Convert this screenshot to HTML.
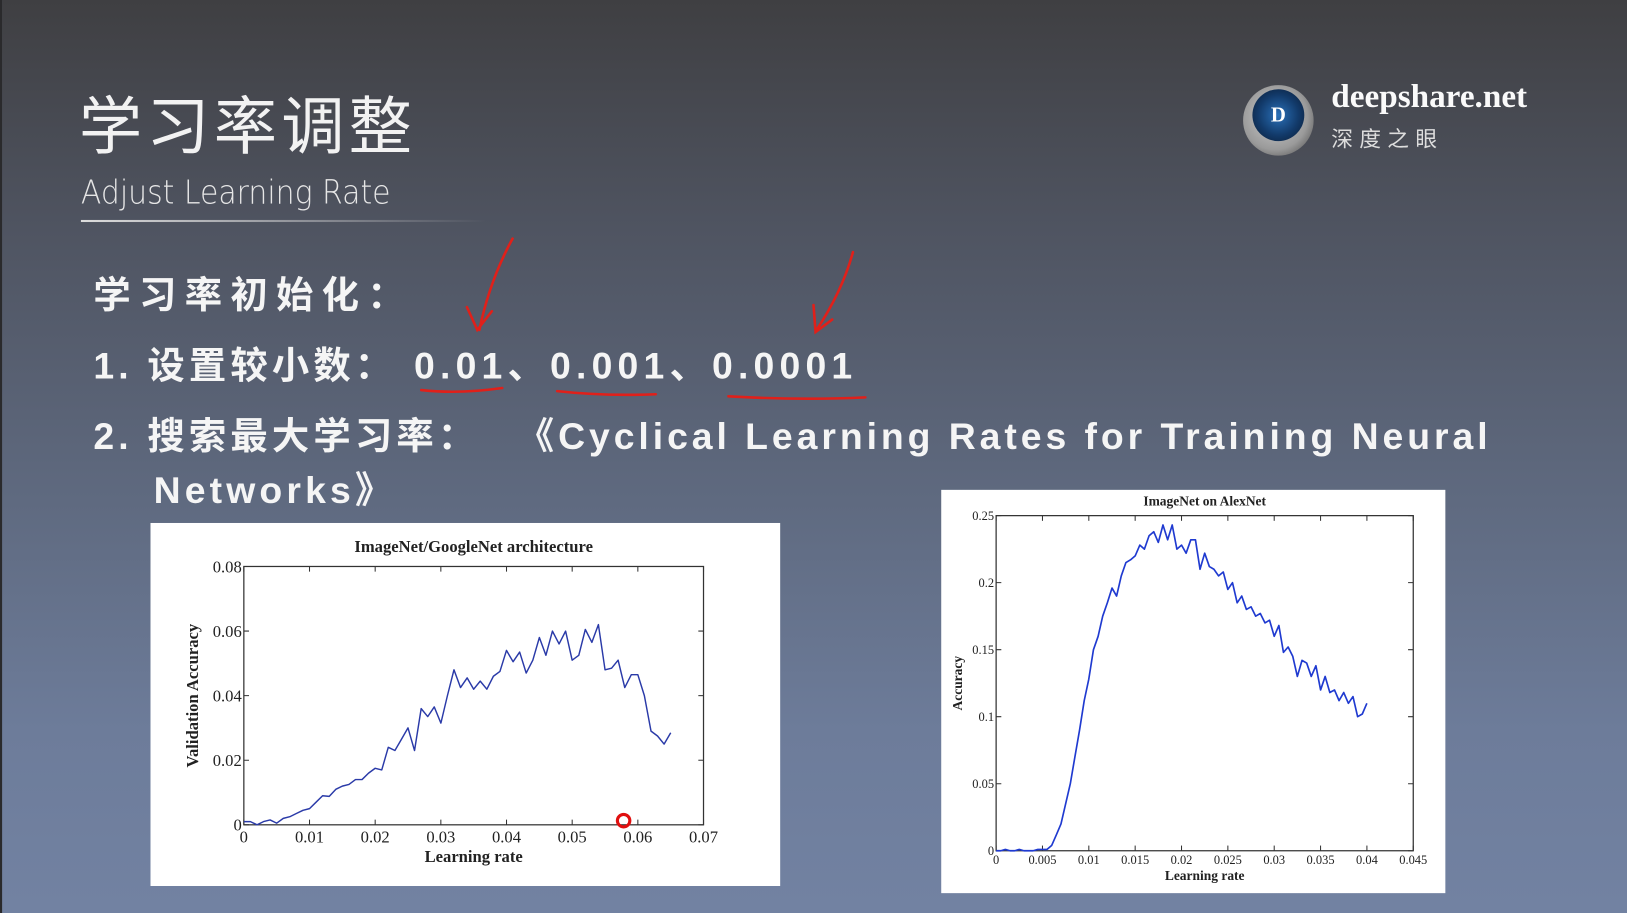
<!DOCTYPE html>
<html><head><meta charset="utf-8">
<style>
html,body{margin:0;padding:0;width:1627px;height:913px;overflow:hidden;background:#555b6a}
#wrap{position:absolute;left:0;top:0;width:1568px;height:880px;transform:scale(1.03763,1.0375);transform-origin:0 0;
background:linear-gradient(180deg,#3f3f42 0%,#4f5461 25%,#5f6a80 55%,#6d7c9a 80%,#7282a2 100%);
font-family:"Liberation Sans","Noto Sans CJK SC",sans-serif;color:#fff;border-left:2px solid #2a2a2c;box-sizing:border-box}
.abs{position:absolute}
.t{white-space:nowrap}
</style></head><body>
<div id="wrap">
<div class="abs t" style="left:74px;top:72px;font-size:61px;font-family:'Noto Sans CJK SC',sans-serif;letter-spacing:4px;color:#f2f2f2">学习率调整</div>
<div class="abs t" style="left:76px;top:166px;font-size:32px;font-family:'DejaVu Sans','Liberation Sans',sans-serif;font-weight:300;color:#e6e6e6;letter-spacing:0px;transform:scaleX(0.9);transform-origin:0 0">Adjust Learning Rate</div>
<div class="abs" style="left:76px;top:212px;width:390px;height:2px;background:linear-gradient(90deg,#ddd,rgba(220,220,220,0))"></div>

<div class="abs" style="left:1196px;top:82px;width:68px;height:68px;border-radius:50%;background:radial-gradient(circle at 45% 45%,#cfcfcf 0,#9a9a9a 60%,#3a3a3a 100%)"></div>
<div class="abs" style="left:1205px;top:86px;width:50px;height:50px;border-radius:50%;background:radial-gradient(circle at 50% 50%,#2a70b8 0,#123a6a 55%,#0a1a30 100%);color:#fff;font:bold 20px 'Liberation Serif',serif;text-align:center;line-height:50px">D</div>
<div class="abs t" style="left:1281px;top:74px;font:bold 32px 'Liberation Serif',serif;color:#fafafa">deepshare.net</div>
<div class="abs t" style="left:1281px;top:118px;font-size:21px;font-family:'Noto Sans CJK SC',sans-serif;letter-spacing:6px;color:#ddd">深度之眼</div>

<div class="abs t" style="left:88px;top:256px;font-size:36px;font-weight:bold;font-family:'Noto Sans CJK SC',sans-serif;letter-spacing:8px;color:#f5f5f5">学习率初始化：</div>
<div class="abs t" style="left:88px;top:324px;font-size:36px;font-weight:bold;font-family:'Liberation Sans','Noto Sans CJK SC',sans-serif;letter-spacing:4px;color:#f5f5f5">1. 设置较小数：<span style="margin-left:17px;letter-spacing:5px">0.01、0.001、0.0001</span></div>
<div class="abs t" style="left:88px;top:392px;font-size:36px;font-weight:bold;font-family:'Liberation Sans','Noto Sans CJK SC',sans-serif;letter-spacing:4px;color:#f5f5f5">2. 搜索最大学习率：<span style="margin-left:54px;letter-spacing:3.8px">《Cyclical Learning Rates for Training Neural</span></div>
<div class="abs t" style="left:146px;top:444px;font-size:36px;font-weight:bold;font-family:'Liberation Sans','Noto Sans CJK SC',sans-serif;letter-spacing:4px;color:#f5f5f5">Networks》</div>

<svg class="abs" style="left:0;top:0" width="1568" height="880">
<g fill="none" stroke="#e0201a" stroke-width="2.5" stroke-linecap="round">
<path d="M492 230 Q470 270 460 318 M448 296 L458 318 L472 300"/>
<path d="M820 243 Q810 280 785 318 M782 294 L784 320 L800 308"/>
<path d="M404 376 Q440 380 482 374"/>
<path d="M535 377 Q580 382 630 380"/>
<path d="M700 382 Q770 386 832 383"/>
</g></svg>

<svg class="abs" id="c1" style="left:143px;top:504px" width="607" height="350"></svg>
<svg class="abs" id="c2" style="left:905px;top:472px" width="486" height="389"></svg>
</div>
<script>
// Chart 1 data
const c1X = [0,0.001,0.002,0.003,0.004,0.005,0.006,0.007,0.008,0.009,0.010,0.011,0.012,0.013,0.014,0.015,0.016,0.017,0.018,0.019,0.020,0.021,0.022,0.023,0.024,0.025,0.026,0.027,0.028,0.029,0.030,0.031,0.032,0.033,0.034,0.035,0.036,0.037,0.038,0.039,0.040,0.041,0.042,0.043,0.044,0.045,0.046,0.047,0.048,0.049,0.050,0.051,0.052,0.053,0.054,0.055,0.056,0.057,0.058,0.059,0.060,0.061,0.062,0.063,0.064,0.065];
const c1Y = [0.001,0.001,0,0.001,0.0015,0.0005,0.002,0.0025,0.0035,0.0045,0.005,0.007,0.009,0.0088,0.011,0.012,0.0125,0.014,0.014,0.016,0.0175,0.017,0.024,0.023,0.0265,0.030,0.023,0.036,0.0335,0.0365,0.0315,0.040,0.048,0.0425,0.0455,0.042,0.0445,0.042,0.046,0.0475,0.054,0.0505,0.0535,0.047,0.051,0.058,0.0525,0.060,0.056,0.060,0.051,0.0525,0.0605,0.0565,0.062,0.048,0.0485,0.051,0.0425,0.0465,0.0465,0.040,0.029,0.0275,0.025,0.0285];
const c1XTicks = [0,0.01,0.02,0.03,0.04,0.05,0.06,0.07];
const c1XLabels = ["0","0.01","0.02","0.03","0.04","0.05","0.06","0.07"];
const c1YTicks = [0,0.02,0.04,0.06,0.08];
const c1YLabels = ["0","0.02","0.04","0.06","0.08"];
// Chart 2 data
const c2X = [0,0.0005,0.001,0.0015,0.002,0.0025,0.003,0.0035,0.004,0.0045,0.005,0.0055,0.006,0.0065,0.007,0.0075,0.008,0.0085,0.009,0.0095,0.010,0.0105,0.011,0.0115,0.012,0.0125,0.013,0.0135,0.014,0.0145,0.015,0.0155,0.016,0.0165,0.017,0.0175,0.018,0.0185,0.019,0.0195,0.020,0.0205,0.021,0.0215,0.022,0.0225,0.023,0.0235,0.024,0.0245,0.025,0.0255,0.026,0.0265,0.027,0.0275,0.028,0.0285,0.029,0.0295,0.030,0.0305,0.031,0.0315,0.032,0.0325,0.033,0.0335,0.034,0.0345,0.035,0.0355,0.036,0.0365,0.037,0.0375,0.038,0.0385,0.039,0.0395,0.040];
const c2Y = [0,0,0.001,0,0,0.001,0,0,0,0.001,0.001,0.001,0.004,0.012,0.02,0.035,0.05,0.07,0.09,0.112,0.128,0.15,0.16,0.175,0.185,0.196,0.19,0.205,0.215,0.217,0.22,0.228,0.225,0.235,0.238,0.23,0.243,0.232,0.243,0.225,0.228,0.222,0.232,0.232,0.21,0.222,0.212,0.21,0.205,0.208,0.195,0.2,0.185,0.19,0.18,0.182,0.175,0.177,0.17,0.172,0.16,0.168,0.148,0.152,0.145,0.13,0.142,0.14,0.13,0.138,0.12,0.13,0.118,0.12,0.112,0.118,0.11,0.115,0.1,0.102,0.11];
const c2XTicks = [0,0.005,0.01,0.015,0.02,0.025,0.03,0.035,0.04,0.045];
const c2XLabels = ["0","0.005","0.01","0.015","0.02","0.025","0.03","0.035","0.04","0.045"];
const c2YTicks = [0,0.05,0.1,0.15,0.2,0.25];
const c2YLabels = ["0","0.05","0.1","0.15","0.2","0.25"];

const NS="http://www.w3.org/2000/svg";
function mk(parent,tag,attrs,text){const e=document.createElementNS(NS,tag);for(const k in attrs)e.setAttribute(k,attrs[k]);if(text!==undefined)e.textContent=text;parent.appendChild(e);return e;}

function draw(svg,o){
  mk(svg,'rect',{x:0,y:0,width:o.w,height:o.h,fill:'#fff'});
  const sx=v=>o.L+(v-o.x0)/(o.x1-o.x0)*(o.R-o.L);
  const sy=v=>o.B-(v-o.y0)/(o.y1-o.y0)*(o.B-o.T);
  const fr=mk(svg,'rect',{x:o.L,y:o.T,width:o.R-o.L,height:o.B-o.T,fill:'none',stroke:'#333','stroke-width':1.2});
  
  
  o.xt.forEach((t,i)=>{
    const x=sx(t);
    mk(svg,'line',{x1:x,x2:x,y1:o.B,y2:o.B-5,stroke:'#333'});
    mk(svg,'line',{x1:x,x2:x,y1:o.T,y2:o.T+5,stroke:'#333'});
    const tx=mk(svg,'text',{x:x,y:o.B+o.fs+1,'text-anchor':'middle','font-size':o.fs,'font-family':'Liberation Serif,serif',fill:'#222'},o.xl[i]);
    
    
  });
  o.yt.forEach((t,i)=>{
    const y=sy(t);
    mk(svg,'line',{x1:o.L,x2:o.L+5,y1:y,y2:y,stroke:'#333'});
    mk(svg,'line',{x1:o.R,x2:o.R-5,y1:y,y2:y,stroke:'#333'});
    const ty=mk(svg,'text',{x:o.L-2,y:y+o.fs*0.35,'text-anchor':'end','font-size':o.fs,'font-family':'Liberation Serif,serif',fill:'#222'},o.yl[i]);
    
    
  });
  const d=o.X.map((v,i)=>(i?'L':'M')+sx(v).toFixed(1)+' '+sy(o.Y[i]).toFixed(1)).join(' ');
  const p=mk(svg,'path',{d:d,fill:'none',stroke:o.col,'stroke-width':o.sw,'stroke-linejoin':'round'});
  
  
  const ti=mk(svg,'text',{x:(o.L+o.R)/2,y:o.T-o.tg,'text-anchor':'middle','font-size':o.tfs,'font-weight':'bold','font-family':'Liberation Serif,serif',fill:'#222'},o.title);
  
  
  const xa=mk(svg,'text',{x:(o.L+o.R)/2,y:o.B+o.fs+o.xg,'text-anchor':'middle','font-size':o.tfs,'font-weight':'bold','font-family':'Liberation Serif,serif',fill:'#222'},'Learning rate');
  
  
  const yx=o.yx, yy=(o.T+o.B)/2;
  const ya=mk(svg,'text',{x:yx,y:yy,'text-anchor':'middle','font-size':o.tfs,'font-weight':'bold','font-family':'Liberation Serif,serif',fill:'#222',transform:`rotate(-90 ${yx} ${yy})`},o.ytitle);
  
  
}
draw(document.getElementById('c1'),{w:607,h:350,L:90,R:533,T:42,B:291,x0:0,x1:0.07,y0:0,y1:0.08,X:c1X,Y:c1Y,xt:c1XTicks,xl:c1XLabels,yt:c1YTicks,yl:c1YLabels,fs:16,tfs:16,tg:14,xg:20,yx:46,col:'#2a3aa8',sw:1.4,title:'ImageNet/GoogleNet architecture',ytitle:'Validation Accuracy'});
draw(document.getElementById('c2'),{w:486,h:389,L:53,R:455,T:25,B:348,x0:0,x1:0.045,y0:0,y1:0.25,X:c2X,Y:c2Y,xt:c2XTicks,xl:c2XLabels,yt:c2YTicks,yl:c2YLabels,fs:12,tfs:13,tg:10,xg:16,yx:20,col:'#1f3ad0',sw:1.6,title:'ImageNet on AlexNet',ytitle:'Accuracy'});
const c1=document.getElementById('c1');
const cur=mk(c1,'circle',{cx:456,cy:287,r:6,fill:'none',stroke:'#e01010','stroke-width':3});


</script>
</body></html>
